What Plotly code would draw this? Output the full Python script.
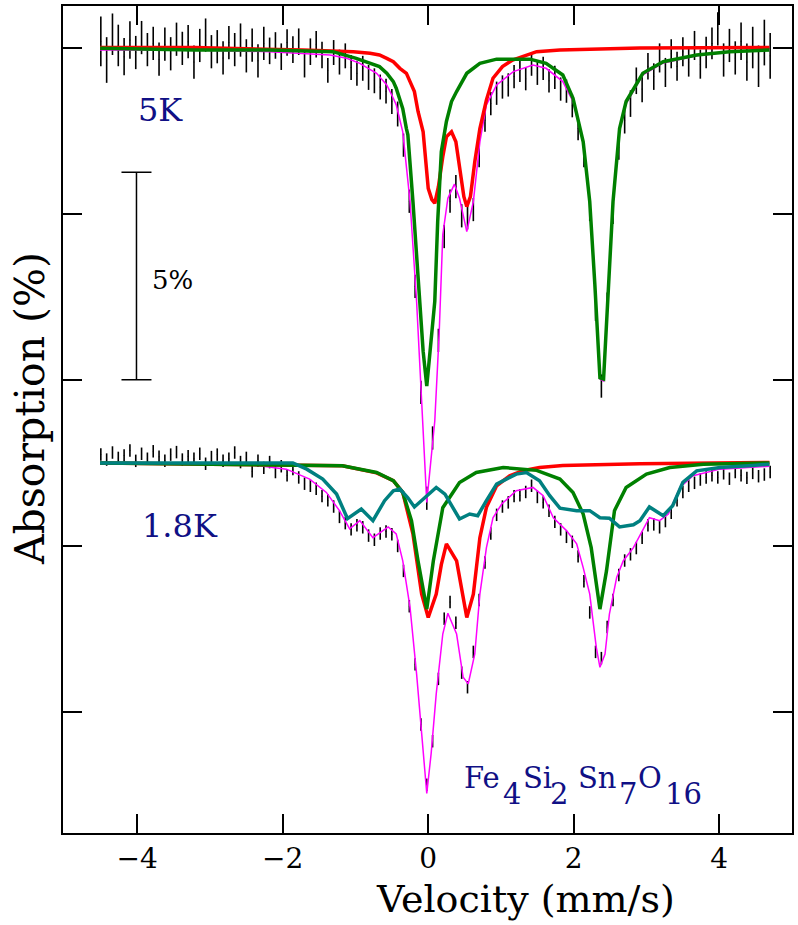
import plotly.graph_objects as go

# ---------------- data ----------------
# channel velocities (mm/s)
VEL = [-4.50, -4.42, -4.34, -4.26, -4.18, -4.10, -4.02, -3.94, -3.86, -3.78,
       -3.70, -3.62, -3.54, -3.46, -3.38, -3.30, -3.22, -3.14, -3.06, -2.98,
       -2.90, -2.82, -2.74, -2.66, -2.58, -2.50, -2.42, -2.34, -2.26, -2.18,
       -2.10, -2.02, -1.94, -1.86, -1.78, -1.70, -1.62, -1.54, -1.46, -1.38,
       -1.30, -1.22, -1.14, -1.06, -0.98, -0.90, -0.82, -0.74, -0.66, -0.58,
       -0.50, -0.42, -0.34, -0.26, -0.18, -0.10, -0.02, 0.06, 0.14, 0.22,
       0.30, 0.38, 0.46, 0.54, 0.62, 0.70, 0.78, 0.86, 0.94, 1.02,
       1.10, 1.18, 1.26, 1.34, 1.42, 1.50, 1.58, 1.66, 1.74, 1.82,
       1.90, 1.98, 2.06, 2.14, 2.22, 2.30, 2.38, 2.46, 2.54, 2.62,
       2.70, 2.78, 2.86, 2.94, 3.02, 3.10, 3.18, 3.26, 3.34, 3.42,
       3.50, 3.58, 3.66, 3.74, 3.82, 3.90, 3.98, 4.06, 4.14, 4.22,
       4.30, 4.38, 4.46, 4.54, 4.62, 4.70]

# 5 K spectrum (absorption %, baseline 0)
DATA_5K = [0.15, -0.30, 0.32, 0.05, -0.22, 0.18, -0.12, 0.24, -0.05, 0.10,
           -0.28, 0.08, -0.15, 0.20, -0.02, 0.14, -0.35, 0.05, 0.30, -0.10,
           0.02, -0.25, 0.12, -0.05, 0.18, -0.20, 0.06, -0.32, 0.10, -0.08,
           0.05, -0.22, 0.12, -0.05, 0.14, -0.40, -0.10, 0.08, -0.18, -0.55,
           -0.12, -0.35, -0.20, -0.48, -0.62, -0.50, -0.72, -0.80, -0.95, -1.05,
           -1.30, -1.60, -2.35, -3.70, -5.75, -8.30, -10.85, -9.40, -7.05, -4.55,
           -3.70, -3.35, -4.05, -4.10, -3.90, -2.60, -1.75, -1.35, -1.10, -0.95,
           -0.90, -0.70, -0.55, -0.75, -0.40, -0.62, -0.50, -0.80, -0.72, -1.00,
           -1.05, -1.40, -1.95, -2.60, -3.90, -6.30, -8.15, -6.20, -3.95, -2.40,
           -1.75, -1.35, -0.80, -1.00, -0.45, -0.70, -0.25, -0.60, -0.15, -0.45,
           -0.10, -0.35, 0.05, -0.40, -0.12, 0.10, 0.45, -0.30, 0.05, -0.25,
           0.15, -0.35, 0.00, -0.45, 0.12, -0.20]
ERR_5K = [0.60, 0.55, 0.50, 0.50, 0.45, 0.45, 0.40, 0.40, 0.40, 0.40,
          0.40, 0.40, 0.40, 0.40, 0.40, 0.40, 0.40, 0.40, 0.40, 0.40,
          0.40, 0.40, 0.40, 0.40, 0.40, 0.40, 0.40, 0.40, 0.40, 0.32,
          0.32, 0.32, 0.32, 0.32, 0.32, 0.32, 0.32, 0.32, 0.32, 0.30,
          0.30, 0.30, 0.30, 0.30, 0.30, 0.30, 0.30, 0.30, 0.30, 0.30,
          0.30, 0.30, 0.28, 0.28, 0.28, 0.28, 0.28, 0.28, 0.28, 0.28,
          0.28, 0.28, 0.28, 0.28, 0.28, 0.28, 0.28, 0.28, 0.28, 0.28,
          0.28, 0.28, 0.28, 0.28, 0.28, 0.28, 0.28, 0.28, 0.28, 0.28,
          0.28, 0.28, 0.28, 0.28, 0.28, 0.28, 0.28, 0.30, 0.30, 0.30,
          0.32, 0.32, 0.32, 0.32, 0.32, 0.32, 0.35, 0.35, 0.35, 0.35,
          0.35, 0.35, 0.35, 0.35, 0.38, 0.38, 0.40, 0.40, 0.40, 0.40,
          0.45, 0.45, 0.50, 0.50, 0.55, 0.55]

# 1.8 K spectrum (absorption %, offset by -10 %)
DATA_18K = [-9.80, -9.92, -9.75, -9.88, -9.82, -9.70, -9.95, -9.78, -9.90, -9.72,
            -9.85, -9.95, -9.80, -9.74, -9.92, -9.84, -9.90, -9.78, -10.02, -9.86,
            -9.80, -9.95, -9.90, -9.75, -9.98, -9.88, -10.20, -9.95, -10.12, -9.98,
            -10.22, -10.08, -10.30, -10.15, -10.35, -10.50, -10.55, -10.62, -10.80, -10.90,
            -11.05, -11.30, -11.45, -11.60, -11.50, -11.55, -11.75, -11.85, -11.70, -11.65,
            -11.72, -12.00, -12.60, -13.45, -14.85, -16.30, -17.75, -16.70, -15.20, -13.75,
            -13.35, -13.85, -15.05, -15.40, -14.55, -13.30, -12.40, -11.70, -11.25, -11.05,
            -10.95, -10.80, -10.78, -10.70, -10.55, -10.82, -10.95, -11.15, -11.42, -11.60,
            -11.78, -11.90, -12.25, -12.85, -13.60, -14.55, -14.70, -13.95, -13.30, -12.70,
            -12.35, -12.20, -12.05, -11.80, -11.50, -11.48, -11.55, -11.40, -11.20, -10.90,
            -10.70, -10.55, -10.48, -10.40, -10.35, -10.30, -10.35, -10.25, -10.38, -10.22,
            -10.30, -10.36, -10.24, -10.32, -10.28, -10.22]
ERR_18K = 0.15

# fitted components, 5 K
RED_5K_X = [-4.51, -3.21, -1.72, -1.03, -0.80, -0.67, -0.57, -0.48, -0.39, -0.30,
            -0.25, -0.19, -0.14, -0.07, 0.00, 0.05, 0.09, 0.14, 0.20, 0.25,
            0.32, 0.38, 0.43, 0.49, 0.53, 0.58, 0.64, 0.71, 0.80, 0.89,
            1.02, 1.16, 1.49, 1.81, 2.91, 4.69]
RED_5K_Y = [0.00, 0.00, -0.06, -0.10, -0.14, -0.18, -0.26, -0.34, -0.50, -0.62,
            -0.82, -1.06, -1.54, -2.03, -3.39, -3.66, -3.75, -3.35, -2.63, -2.15,
            -2.03, -2.27, -2.87, -3.59, -3.83, -3.59, -2.75, -1.95, -1.26, -0.74,
            -0.46, -0.30, -0.10, -0.06, -0.01, 0.00]
GREEN_5K_X = [-4.51, -3.21, -2.18, -1.31, -0.99, -0.80, -0.67, -0.57, -0.48, -0.44,
              -0.35, -0.30, -0.28, -0.21, -0.12, -0.07, -0.02, 0.03, 0.09, 0.13,
              0.18, 0.25, 0.32, 0.39, 0.53, 0.71, 0.94, 1.40, 1.62, 1.85,
              1.99, 2.13, 2.22, 2.29, 2.36, 2.41, 2.47, 2.54, 2.63, 2.72,
              2.95, 3.23, 3.69, 4.14, 4.69]
GREEN_5K_Y = [-0.02, -0.06, -0.06, -0.10, -0.26, -0.38, -0.46, -0.62, -0.82, -0.98,
              -1.47, -1.95, -2.10, -3.71, -6.11, -7.31, -8.15, -7.31, -6.11, -4.19,
              -2.51, -1.78, -1.30, -1.06, -0.62, -0.38, -0.28, -0.28, -0.38, -0.66,
              -1.22, -2.27, -3.71, -5.70, -7.95, -7.98, -6.11, -3.71, -1.95, -1.30,
              -0.62, -0.34, -0.18, -0.10, -0.06]
MAG_5K_X = [-4.51, -4.01, -3.21, -2.18, -1.35, -1.12, -0.94, -0.71, -0.67, -0.57,
            -0.48, -0.44, -0.35, -0.25, -0.16, -0.09, -0.02, 0.09, 0.15, 0.20,
            0.27, 0.36, 0.43, 0.53, 0.62, 0.71, 0.80, 0.94, 1.17, 1.44,
            1.62, 1.85, 1.99, 2.13, 2.22, 2.29, 2.36, 2.41, 2.47, 2.54,
            2.63, 2.72, 2.95, 3.23, 3.69, 4.14, 4.69]
MAG_5K_Y = [-0.06, -0.06, -0.06, -0.10, -0.18, -0.26, -0.38, -0.62, -0.70, -0.90,
            -1.22, -1.38, -2.03, -3.71, -6.11, -8.51, -10.95, -8.99, -6.90, -4.50,
            -3.63, -3.29, -3.63, -4.43, -3.71, -2.27, -1.38, -0.90, -0.58, -0.42,
            -0.50, -0.82, -1.30, -2.27, -3.71, -5.75, -7.98, -8.03, -6.11, -3.71,
            -1.98, -1.35, -0.66, -0.37, -0.20, -0.10, -0.06]

# fitted components, 1.8 K
RED_18_X = [-4.51, -1.18, -0.71, -0.48, -0.35, -0.21, -0.09, 0.00, 0.11, 0.18,
            0.25, 0.39, 0.53, 0.62, 0.71, 0.80, 0.94, 1.12, 1.30, 1.53,
            1.85, 2.91, 4.69]
RED_18_Y = [-10.00, -10.07, -10.24, -10.43, -10.71, -11.71, -13.16, -13.72, -13.16, -12.45,
            -11.95, -12.36, -13.72, -13.16, -11.80, -11.07, -10.55, -10.31, -10.19, -10.11,
            -10.06, -10.02, -9.99]
GREEN_18_X = [-4.51, -1.18, -0.71, -0.48, -0.35, -0.23, -0.14, -0.02, 0.07, 0.20,
              0.43, 0.66, 1.03, 1.49, 1.81, 1.99, 2.13, 2.24, 2.36, 2.45,
              2.56, 2.72, 3.00, 3.32, 3.78, 4.69]
GREEN_18_Y = [-10.00, -10.07, -10.23, -10.43, -10.71, -11.39, -12.36, -13.52, -12.36, -11.08,
              -10.47, -10.23, -10.11, -10.18, -10.39, -10.71, -11.23, -12.04, -13.52, -12.60,
              -11.15, -10.59, -10.27, -10.11, -10.03, -10.00]
TEAL_18_X = [-4.51, -1.86, -1.67, -1.45, -1.26, -1.11, -0.92, -0.76, -0.60, -0.48,
             -0.39, -0.28, -0.19, -0.05, 0.11, 0.23, 0.32, 0.43, 0.57, 0.68,
             0.80, 0.94, 1.21, 1.35, 1.53, 1.67, 1.81, 2.04, 2.22, 2.36,
             2.49, 2.63, 2.82, 2.91, 3.04, 3.23, 3.36, 3.50, 3.69, 4.01,
             4.46, 4.69]
TEAL_18_Y = [-10.00, -10.00, -10.15, -10.39, -10.75, -11.34, -11.11, -11.39, -10.91, -10.67,
             -10.63, -10.84, -11.06, -10.84, -10.59, -10.75, -11.03, -11.35, -11.23, -11.27,
             -10.91, -10.51, -10.27, -10.23, -10.43, -10.79, -11.09, -11.15, -11.15, -11.32,
             -11.33, -11.54, -11.49, -11.39, -11.06, -11.27, -11.03, -10.47, -10.19, -10.11,
             -10.06, -10.03]
MAG_18_X = [-4.51, -2.55, -2.32, -1.95, -1.63, -1.40, -1.22, -1.08, -0.94, -0.76,
            -0.55, -0.44, -0.35, -0.25, -0.16, -0.09, -0.02, 0.04, 0.11, 0.20,
            0.27, 0.39, 0.48, 0.55, 0.64, 0.71, 0.80, 0.89, 1.01, 1.21,
            1.44, 1.58, 1.72, 1.90, 2.04, 2.13, 2.22, 2.31, 2.36, 2.43,
            2.49, 2.59, 2.68, 2.82, 2.95, 3.04, 3.18, 3.30, 3.46, 3.64,
            4.01, 4.46, 4.69]
MAG_18_Y = [-10.03, -10.03, -10.07, -10.15, -10.39, -10.71, -11.15, -11.59, -11.39, -11.80,
            -11.54, -11.71, -12.36, -13.48, -15.08, -16.60, -17.96, -17.00, -15.56, -14.12,
            -13.62, -14.12, -15.16, -15.32, -14.60, -13.16, -12.04, -11.32, -10.99, -10.67,
            -10.59, -10.79, -11.32, -11.63, -11.95, -12.52, -13.16, -14.44, -14.92, -14.60,
            -13.64, -12.76, -12.36, -12.04, -11.63, -11.32, -11.39, -11.23, -10.59, -10.31,
            -10.15, -10.10, -10.08]

# scale bar (5 % absorption)
SCALE_X = -4.01
SCALE_TOP = -3.0
SCALE_SIZE = 5.0

X_TICKS = [-4, -2, 0, 2, 4]
X_TICKTEXT = ["\u22124", "\u22122", "0", "2", "4"]
Y_TICKS = [0, -4, -8, -12, -16]

# formula pieces: (text, is_subscript)
FORMULA = [("Fe", False), ("4", True), ("Si", False), ("2", True),
           ("Sn", False), ("7", True), ("O", False), ("16", True)]
FORMULA_X = [0.46, 1.00, 1.27, 1.65, 2.03, 2.59, 2.85, 3.22]

FONT = "DejaVu Serif"
NAVY = "#101085"

fig = go.Figure()

# data with error bars
for yv, err in [(DATA_5K, dict(type="data", array=ERR_5K)),
                (DATA_18K, dict(type="constant", value=ERR_18K))]:
    err.update(visible=True, color="black", thickness=1.6, width=0)
    fig.add_trace(go.Scatter(x=VEL, y=yv, mode="markers",
                             marker=dict(size=1, color="black"),
                             error_y=err, hoverinfo="skip"))

# fitted curves
curves = [
    (MAG_5K_X, MAG_5K_Y, "#ff00ff", 1.5),
    (MAG_18_X, MAG_18_Y, "#ff00ff", 1.5),
    (RED_5K_X, RED_5K_Y, "#ff0000", 3.5),
    (RED_18_X, RED_18_Y, "#ff0000", 3.5),
    (GREEN_5K_X, GREEN_5K_Y, "#008000", 3.5),
    (GREEN_18_X, GREEN_18_Y, "#008000", 3.5),
    (TEAL_18_X, TEAL_18_Y, "#008080", 3.5),
]
for xs, ys, col, w in curves:
    fig.add_trace(go.Scatter(x=xs, y=ys, mode="lines",
                             line=dict(color=col, width=w)))

# scale bar
fig.add_trace(go.Scatter(x=[SCALE_X], y=[SCALE_TOP - SCALE_SIZE / 2], mode="markers",
                         marker=dict(size=1, color="black"),
                         error_y=dict(type="constant", value=SCALE_SIZE / 2,
                                      color="black", thickness=1.5, width=15)))

axis_common = dict(showgrid=False, zeroline=False, showline=True, linecolor="black",
                   linewidth=1.5, mirror="ticks", ticks="inside", ticklen=19,
                   tickwidth=1.5, tickcolor="black")

annotations = [
    dict(x=-3.68, y=-1.50, xref="x", yref="y", text="5K", showarrow=False,
         font=dict(family=FONT, size=32, color=NAVY)),
    dict(x=-3.41, y=-11.53, xref="x", yref="y", text="1.8K", showarrow=False,
         font=dict(family=FONT, size=32, color=NAVY)),
    dict(x=-3.52, y=-5.60, xref="x", yref="y", text="5%", showarrow=False,
         font=dict(family=FONT, size=26, color="black")),
    dict(x=1.34, y=-0.0802, xref="x", yref="paper", text="Velocity (mm/s)",
         showarrow=False, xanchor="center", yanchor="middle",
         font=dict(family=FONT, size=38, color="black")),
    dict(x=-0.0453, y=-8.68, xref="paper", yref="y", text="Absorption (%)",
         showarrow=False, textangle=-90, xanchor="center", yanchor="middle",
         font=dict(family=FONT, size=41, color="black")),
]
for (txt, is_sub), fx in zip(FORMULA, FORMULA_X):
    annotations.append(dict(x=fx, y=(-17.97 if is_sub else -17.59), xref="x", yref="y",
                            text=txt, showarrow=False, xanchor="left",
                            yanchor="middle",
                            font=dict(family=FONT, size=29, color=NAVY)))

fig.update_layout(
    width=798, height=925,
    margin=dict(l=63, r=6, t=4, b=92),
    plot_bgcolor="white", paper_bgcolor="white",
    showlegend=False,
    xaxis=dict(range=[-5.02, 5.0], tickvals=X_TICKS, ticktext=X_TICKTEXT,
               tickfont=dict(family=FONT, size=28, color="black"), **axis_common),
    yaxis=dict(range=[-18.91, 1.0], tickvals=Y_TICKS, showticklabels=False,
               **axis_common),
    annotations=annotations,
)

fig.write_html("out.html")
